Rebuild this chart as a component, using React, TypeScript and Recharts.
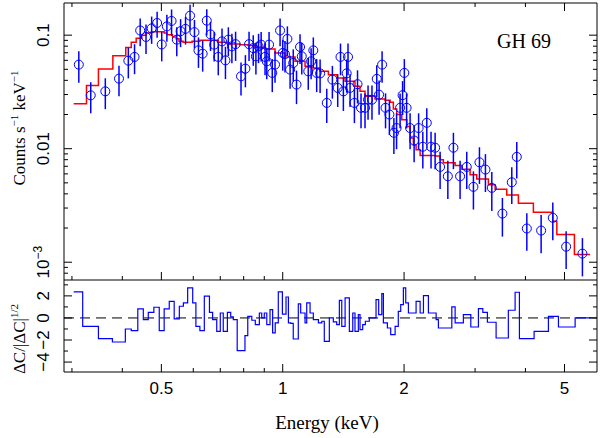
import React from "react";
import {
  ComposedChart,
  Scatter,
  Line,
  XAxis,
  YAxis,
  ErrorBar,
  ReferenceLine,
} from "recharts";

// binned spectrum: energy (keV), counts s^-1 keV^-1 and 1-sigma error
const energy = [
  0.312, 0.334, 0.363, 0.3925, 0.414, 0.429, 0.443, 0.458, 0.473, 0.488,
  0.501, 0.516, 0.53, 0.546, 0.558, 0.574, 0.589, 0.604, 0.618, 0.633,
  0.648, 0.662, 0.676, 0.692, 0.707, 0.721, 0.733, 0.748, 0.764, 0.788,
  0.808, 0.825, 0.845, 0.858, 0.871, 0.884, 0.904, 0.913, 0.925, 0.942,
  0.957, 0.985, 1.0, 1.013, 1.027, 1.043, 1.062, 1.082, 1.104, 1.115,
  1.157, 1.176, 1.191, 1.214, 1.238, 1.286, 1.328, 1.369, 1.391, 1.414,
  1.441, 1.452, 1.469, 1.506, 1.533, 1.564, 1.6, 1.628, 1.665, 1.711,
  1.734, 1.764, 1.799, 1.839, 1.887, 1.916, 1.955, 1.983, 2.003, 2.029,
  2.07, 2.118, 2.173, 2.226, 2.277, 2.333, 2.388, 2.457, 2.568, 2.651,
  2.754, 2.861, 2.972, 3.076, 3.183, 3.301, 3.507, 3.7, 3.807, 4.032,
  4.375, 4.677, 5.047, 5.539,
];
const counts = [
  0.055, 0.0295, 0.032, 0.0414, 0.0596, 0.0643, 0.11, 0.0964, 0.1148, 0.128,
  0.0828, 0.1195, 0.1334, 0.0913, 0.1084, 0.1136, 0.1484, 0.1063, 0.0735, 0.0687,
  0.1342, 0.1016, 0.0825, 0.0643, 0.0882, 0.06, 0.0913, 0.0797, 0.0833, 0.0434,
  0.0507, 0.0833, 0.0769, 0.0651, 0.0797, 0.0825, 0.0643, 0.0588, 0.0825, 0.0465,
  0.055, 0.11, 0.0697, 0.068, 0.0926, 0.0497, 0.0569, 0.0367, 0.0787, 0.0651,
  0.048, 0.0588, 0.0735, 0.0465, 0.046, 0.0253, 0.0406, 0.0343, 0.0643, 0.032,
  0.0461, 0.0643, 0.0343, 0.0253, 0.037, 0.0229, 0.0229, 0.027, 0.027, 0.0412,
  0.0299, 0.055, 0.0229, 0.02, 0.0138, 0.0152, 0.0229, 0.0296, 0.0465, 0.0229,
  0.0152, 0.0118, 0.0152, 0.0104, 0.0169, 0.0104, 0.0102, 0.00691, 0.00571, 0.0102,
  0.00571, 0.00691, 0.00461, 0.00759, 0.00655, 0.00452, 0.00268, 0.00506, 0.00847, 0.00198,
  0.0019, 0.00246, 0.00137, 0.00119,
];
const countErr = [
  0.017, 0.009, 0.0097, 0.0124, 0.018, 0.019, 0.03, 0.028, 0.031, 0.033,
  0.024, 0.032, 0.035, 0.026, 0.03, 0.031, 0.037, 0.03, 0.022, 0.021,
  0.035, 0.029, 0.024, 0.02, 0.026, 0.019, 0.026, 0.023, 0.024, 0.014,
  0.016, 0.024, 0.023, 0.02, 0.023, 0.024, 0.02, 0.018, 0.024, 0.015,
  0.017, 0.03, 0.021, 0.021, 0.027, 0.016, 0.018, 0.012, 0.023, 0.02,
  0.015, 0.018, 0.022, 0.015, 0.015, 0.0085, 0.013, 0.011, 0.02, 0.0105,
  0.015, 0.02, 0.011, 0.0085, 0.012, 0.0078, 0.0078, 0.009, 0.009, 0.013,
  0.01, 0.017, 0.0078, 0.0068, 0.0048, 0.0053, 0.0078, 0.0098, 0.015, 0.0078,
  0.0053, 0.0042, 0.0053, 0.0037, 0.0058, 0.0037, 0.0036, 0.0025, 0.0021, 0.0036,
  0.0021, 0.0025, 0.0017, 0.0027, 0.0024, 0.0017, 0.001, 0.0018, 0.003, 0.00072,
  0.0007, 0.0009, 0.0005, 0.00044,
];

// folded model: start of each model bin and its value (last entry closes the last bin)
const modelEdge = [
  0.303, 0.326, 0.349, 0.379, 0.408, 0.421, 0.433, 0.447, 0.458, 0.472,
  0.508, 0.516, 0.533, 0.544, 0.553, 0.566, 0.596, 0.623, 0.692, 0.732,
  0.783, 0.82, 0.854, 0.904, 0.957, 1.013, 1.073, 1.136, 1.18, 1.238,
  1.298, 1.364, 1.428, 1.511, 1.555, 1.6, 1.694, 1.794, 1.846, 1.881,
  1.918, 1.974, 2.031, 2.07, 2.109, 2.142, 2.192, 2.388, 2.457, 2.503,
  2.677, 2.782, 2.916, 3.029, 3.237, 3.364, 3.595, 3.842, 4.186, 4.677,
  4.786, 5.291, 5.788,
];
const modelValue = [
  0.0249, 0.036, 0.0504, 0.066, 0.078, 0.0865, 0.0937, 0.0996, 0.1045, 0.107,
  0.1045, 0.101, 0.0964, 0.093, 0.0882, 0.0865, 0.0882, 0.09, 0.0865, 0.0837,
  0.0823, 0.0809, 0.0784, 0.0756, 0.0697, 0.0643, 0.0588, 0.0531, 0.0514, 0.048,
  0.0449, 0.0419, 0.0393, 0.0354, 0.032, 0.0289, 0.0274, 0.0267, 0.0256, 0.0224,
  0.02, 0.018, 0.0157, 0.0124, 0.0108, 0.0098, 0.0087, 0.0086, 0.008, 0.0075,
  0.0071, 0.0066, 0.0059, 0.0054, 0.0048, 0.0044, 0.0039, 0.0033, 0.00276, 0.00229,
  0.00175, 0.00117, 0.00117,
];

// residuals, same convention as the model
const residEdge = [
  0.303, 0.319, 0.349, 0.378, 0.407, 0.421, 0.437, 0.451, 0.464, 0.479,
  0.494, 0.508, 0.523, 0.538, 0.554, 0.567, 0.581, 0.598, 0.609, 0.623,
  0.639, 0.658, 0.67, 0.686, 0.7, 0.712, 0.729, 0.743, 0.754, 0.771,
  0.806, 0.819, 0.838, 0.855, 0.875, 0.887, 0.9, 0.913, 0.93, 0.944,
  0.958, 0.975, 0.998, 1.019, 1.033, 1.047, 1.062, 1.093, 1.108, 1.136,
  1.147, 1.169, 1.191, 1.226, 1.25, 1.268, 1.305, 1.335, 1.361, 1.382,
  1.401, 1.428, 1.463, 1.492, 1.511, 1.54, 1.555, 1.579, 1.603, 1.64,
  1.704, 1.73, 1.761, 1.777, 1.818, 1.853, 1.9, 1.935, 1.962, 1.992,
  2.019, 2.05, 2.142, 2.192, 2.234, 2.298, 2.402, 2.433, 2.627, 2.677,
  2.806, 2.928, 3.058, 3.136, 3.219, 3.383, 3.628, 3.771, 3.865, 4.203,
  4.561, 4.83, 5.313, 5.844,
];
const residValue = [
  2.36, -0.76, -1.88, -2.18, -1.0, -1.15, 0.82, -0.15, 0.51, 0.97,
  -1.15, 0.82, 1.51, -0.09, 1.06, 1.36, 2.72, 1.36, -0.76, -1.15,
  1.97, 0.51, -0.15, -1.21, 0.45, -1.21, 0.51, 0.09, -0.15, -2.97,
  -1.61, 0.15, -0.21, -0.61, 0.45, 0, 0.45, -0.61, 0.75, -1.36,
  -0.45, 2.36, 0.35, 1.9, -0.45, -0.5, -1.91, 1.27, 0.45, -0.45,
  1.36, 0.45, -0.15, -0.45, -0.3, -2.12, 0, -0.35, -0.61, 1.6,
  -0.76, 1.82, -1.21, 0.45, -1.21, 0.3, -1.06, -0.61, -0.3, 0,
  1.66, 0.3, 2.21, -0.45, -0.91, -1.52, -0.76, 0.6, 1.21, 2.72,
  1.36, 0.45, 1.51, 0.45, 2.03, 0.45, -0.15, -0.91, 1.0, -0.45,
  0.3, -0.82, 0.85, 0.51, -0.39, -1.82, 0.7, 2.33, -1.88, -1.21,
  0.15, -0.82, 0, 0,
];

const xTicks = [0.3, 0.4, 0.5, 0.6, 0.7, 0.8, 0.9, 1, 2, 3, 4, 5];
const xLabelled = [0.5, 1, 2, 5];
const yTicks = [
  0.0008, 0.0009, 0.001, 0.002, 0.003, 0.004, 0.005, 0.006, 0.007, 0.008,
  0.009, 0.01, 0.02, 0.03, 0.04, 0.05, 0.06, 0.07, 0.08, 0.09, 0.1,
];
const yLabelled = [0.001, 0.01, 0.1];
const rTicks = [-4, -3, -2, -1, 0, 1, 2, 3];
const rLabelled = [-4, -2, 0, 2];

const X_DOMAIN = [0.2867, 6.02];
const Y_DOMAIN = [0.000697, 0.192];
const R_DOMAIN = [-4.9, 3.44];

const sans = "'Liberation Sans', Arial, Helvetica, sans-serif";
const serif = "'Liberation Serif', 'Times New Roman', serif";
const frame = { stroke: "#000", strokeWidth: 1 };

function XTick(props: any) {
  const { x, y, payload, dir, labels } = props;
  const v = payload.value;
  const major = xLabelled.includes(v);
  const len = major ? 8 : 4;
  return (
    <g>
      <line x1={x} y1={y} x2={x} y2={y + dir * len} stroke="#000" strokeWidth={1} />
      {labels && major && (
        <text x={x} y={y + 22} textAnchor="middle" fontFamily={sans} fontSize={17} fill="#000">
          {v}
        </text>
      )}
    </g>
  );
}

function countLabel(v: number) {
  if (v === 0.1) return "0.1";
  if (v === 0.01) return "0.01";
  return (
    <>
      10
      <tspan dy={-7} fontSize={12}>
        −3
      </tspan>
    </>
  );
}

function YTick(props: any) {
  const { x, y, payload, dir, labels, majors, fmt } = props;
  const v = payload.value;
  const major = majors.includes(v);
  const len = major ? 8 : 4;
  return (
    <g>
      <line x1={x} y1={y} x2={x + dir * len} y2={y} stroke="#000" strokeWidth={1} />
      {labels && major && (
        <text
          transform={`translate(${x - 15},${y}) rotate(-90)`}
          textAnchor="middle"
          fontFamily={sans}
          fontSize={17}
          fill="#000"
        >
          {fmt(v)}
        </text>
      )}
    </g>
  );
}

function Ring(props: any) {
  const { cx, cy } = props;
  return <circle cx={cx} cy={cy} r={4.5} fill="none" stroke="#0000ff" strokeWidth={1} />;
}

// axes need a non-zero size to be drawn, so every axis gets 1px
const axisCommon = {
  allowDataOverflow: true,
  interval: 0 as const,
  tickSize: 0,
  tickMargin: 0,
  tickLine: false,
  axisLine: frame,
};

export default function App() {
  const points = energy.map((e, i) => ({ e, c: counts[i], err: countErr[i] }));
  const model = modelEdge.map((e, i) => ({ e, c: modelValue[i] }));
  const resid = residEdge.map((e, i) => ({ e, r: residValue[i] }));

  const rFmt = (v: number) => (v < 0 ? `−${-v}` : `${v}`);

  return (
    <div style={{ position: "absolute", left: 0, top: 0, width: 600, height: 438, background: "#fff" }}>
      {/* residual panel */}
      <div style={{ position: "absolute", left: 0, top: 0 }}>
        <ComposedChart width={600} height={438} data={resid} margin={{ top: 280, right: 2, bottom: 65, left: 63 }}>
          <XAxis
            {...axisCommon}
            dataKey="e"
            type="number"
            scale="log"
            domain={X_DOMAIN}
            ticks={xTicks}
            height={1}
            tick={(p: any) => <XTick {...p} dir={-1} labels />}
          />
          <YAxis
            {...axisCommon}
            yAxisId="l"
            type="number"
            domain={R_DOMAIN}
            ticks={rTicks}
            width={1}
            tick={(p: any) => <YTick {...p} dir={1} labels majors={rLabelled} fmt={rFmt} />}
          />
          <YAxis
            {...axisCommon}
            yAxisId="r"
            orientation="right"
            type="number"
            domain={R_DOMAIN}
            ticks={rTicks}
            width={1}
            tick={(p: any) => <YTick {...p} dir={-1} majors={rLabelled} fmt={rFmt} />}
          />
          <ReferenceLine yAxisId="l" y={0} stroke="#000" strokeWidth={1} strokeDasharray="10 6" />
          <Line
            yAxisId="l"
            type="stepAfter"
            dataKey="r"
            stroke="#0000ff"
            strokeWidth={1.2}
            dot={false}
            isAnimationActive={false}
          />
        </ComposedChart>
      </div>

      {/* spectrum panel */}
      <div style={{ position: "absolute", left: 0, top: 0 }}>
        <ComposedChart width={600} height={438} margin={{ top: 2, right: 2, bottom: 157, left: 63 }}>
          <XAxis
            {...axisCommon}
            dataKey="e"
            type="number"
            scale="log"
            domain={X_DOMAIN}
            ticks={xTicks}
            height={1}
            tick={(p: any) => <XTick {...p} dir={-1} />}
          />
          <XAxis
            {...axisCommon}
            xAxisId="top"
            orientation="top"
            dataKey="e"
            type="number"
            scale="log"
            domain={X_DOMAIN}
            ticks={xTicks}
            height={1}
            tick={(p: any) => <XTick {...p} dir={1} />}
          />
          <YAxis
            {...axisCommon}
            type="number"
            scale="log"
            domain={Y_DOMAIN}
            ticks={yTicks}
            width={1}
            tick={(p: any) => <YTick {...p} dir={1} labels majors={yLabelled} fmt={countLabel} />}
          />
          <YAxis
            {...axisCommon}
            yAxisId="right"
            orientation="right"
            type="number"
            scale="log"
            domain={Y_DOMAIN}
            ticks={yTicks}
            width={1}
            tick={(p: any) => <YTick {...p} dir={-1} majors={yLabelled} fmt={countLabel} />}
          />
          <Line
            data={model}
            type="stepAfter"
            dataKey="c"
            stroke="#ff0000"
            strokeWidth={1.5}
            dot={false}
            isAnimationActive={false}
          />
          <Scatter data={points} dataKey="c" shape={<Ring />} isAnimationActive={false}>
            <ErrorBar dataKey="err" direction="y" width={0} stroke="#0000ff" strokeWidth={1.5} />
          </Scatter>
        </ComposedChart>
      </div>

      {/* titles */}
      <svg width={600} height={438} style={{ position: "absolute", left: 0, top: 0, pointerEvents: "none" }}>
        <text x={327} y={429} textAnchor="middle" fontFamily={serif} fontSize={19} fill="#000">
          Energy (keV)
        </text>
        <text x={497} y={48} fontFamily={serif} fontSize={20} fill="#000">
          GH 69
        </text>
        <text transform="translate(25,128) rotate(-90)" textAnchor="middle" fontFamily={serif} fontSize={17} fill="#000">
          Counts s
          <tspan dy={-7} fontSize={11}>
            −1
          </tspan>
          <tspan dy={7}> keV</tspan>
          <tspan dy={-7} fontSize={11}>
            −1
          </tspan>
        </text>
        <text transform="translate(25,339) rotate(-90)" textAnchor="middle" fontFamily={serif} fontSize={17} fill="#000">
          ΔC/|ΔC|
          <tspan dy={-7} fontSize={11}>
            1/2
          </tspan>
        </text>
      </svg>
    </div>
  );
}
